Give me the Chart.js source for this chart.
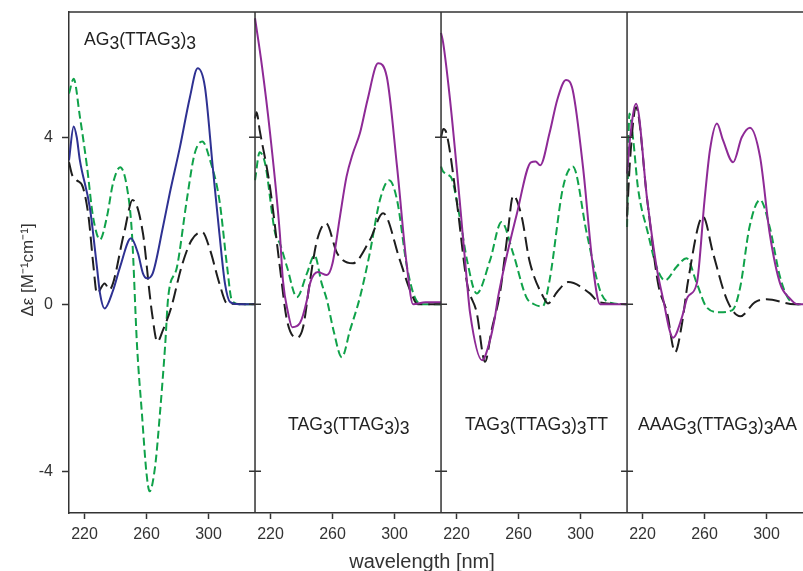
<!DOCTYPE html>
<html lang="en">

<head>
    <meta charset="utf-8">
    <title>CD spectra</title>
    <script src="https://cdn.jsdelivr.net/npm/chart.js"></script>
    <style>
        body { margin: 0; background: #fff; overflow: hidden; }
    </style>
</head>
<body>
<canvas id="cdChart" width="803" height="571"></canvas>

<script>
    // wavelength axis, each panel spans 210-330 nm
    const wlMin = 210
    const panelWidth = 120
    const xTickLabels = [220, 260, 300]
    const yTickValues = [-4, 0, 4]

    const panelNames = [
        [['AG', 0], ['3', 1], ['(TTAG', 0], ['3', 1], [')', 0], ['3', 1]],
        [['TAG', 0], ['3', 1], ['(TTAG', 0], ['3', 1], [')', 0], ['3', 1]],
        [['TAG', 0], ['3', 1], ['(TTAG', 0], ['3', 1], [')', 0], ['3', 1], ['TT', 0]],
        [['AAAG', 0], ['3', 1], ['(TTAG', 0], ['3', 1], [')', 0], ['3', 1], ['AA', 0]]
    ]

    // panel 1: AG3(TTAG3)3
    const p1BlueWl = [210, 213, 215, 217, 223.5, 228, 230, 233, 238.4, 243, 250, 254.5, 257.7, 260.3, 264, 270.6, 275, 281.6, 288, 293, 297.7, 302.7, 307, 310.6, 314, 320, 330]
    const p1BlueCd = [3.45, 4.26, 4.0, 3.45, 2.3, 0.9, 0.26, -0.1, 0.33, 0.9, 1.58, 1.22, 0.74, 0.62, 0.74, 1.85, 2.66, 3.77, 4.96, 5.65, 5.2, 3.3, 1.7, 0.5, 0.05, 0, 0]
    const p1GreenWl = [210, 213, 217, 221.6, 225.5, 230, 234.5, 238.4, 243, 247.4, 250.6, 253.9, 257, 260, 262, 265.5, 268.7, 272, 274, 279.7, 286, 291, 296, 301, 307, 312, 315, 320, 330]
    const p1GreenCd = [5.05, 5.4, 4.5, 3.3, 2.1, 1.55, 2.1, 2.9, 3.28, 2.8, 1.7, -1.0, -2.6, -4.05, -4.48, -3.9, -2.6, -1.0, 0.17, 0.9, 2.5, 3.6, 3.9, 3.45, 2.5, 0.9, 0.1, 0, 0]
    const p1BlackWl = [210, 212, 215, 219, 222.6, 225.8, 228, 233, 236, 245.5, 251, 257.7, 262, 263.5, 267, 270.6, 276, 282.6, 289, 296, 301, 307, 312, 330]
    const p1BlackCd = [3.4, 3.1, 2.97, 2.8, 2.1, 0.9, 0.26, 0.5, 0.35, 1.7, 2.5, 1.7, 0.26, -0.2, -0.9, -0.62, -0.07, 0.9, 1.53, 1.73, 1.3, 0.5, 0.02, 0]

    // panel 2: TAG3(TTAG3)3
    const p2PurpleWl = [210, 214.5, 219.7, 226, 228, 231.3, 234, 239, 243.5, 245.5, 250.6, 256.4, 260, 264.8, 269, 273, 277.7, 282.6, 289.4, 295, 301.6, 308, 312, 320, 330]
    const p2PurpleCd = [6.85, 5.7, 4.1, 1.7, 0.57, -0.2, -0.55, -0.45, 0.1, 0.5, 0.77, 0.7, 0.98, 2.1, 3.05, 3.6, 4.1, 4.9, 5.77, 5.45, 3.3, 0.9, 0, 0.05, 0.05]
    const p2BlackWl = [210, 211, 213, 219.7, 226, 230.6, 237, 241, 245.5, 250, 255.8, 263, 273, 284, 292.6, 303.5, 310, 315, 330]
    const p2BlackCd = [4.45, 4.6, 4.17, 2.8, 0.9, -0.38, -0.8, -0.55, 0.57, 1.53, 1.94, 1.22, 0.98, 1.53, 2.18, 1.05, 0.34, 0, 0]
    const p2GreenWl = [210, 213, 216.5, 223, 226, 230.6, 237, 243.5, 248.4, 253, 256.4, 260.6, 266, 271.3, 277.7, 284, 290.6, 296.5, 301.6, 308, 313, 318, 330]
    const p2GreenCd = [2.97, 3.64, 3.37, 1.7, 1.46, 0.9, 0.17, 0.74, 1.17, 0.5, 0.1, -0.62, -1.27, -0.62, 0.17, 1.22, 2.5, 2.97, 2.5, 0.9, 0.17, 0, 0]

    // panel 3: TAG3(TTAG3)3TT
    const p3PurpleWl = [210, 211.3, 215.8, 222, 226.8, 228.7, 236.5, 241.6, 244.8, 246.8, 259, 268, 271, 274, 280, 285, 290.6, 295, 301.6, 308, 312.6, 330]
    const p3PurpleCd = [6.5, 6.28, 4.9, 2.5, 0.5, -0.2, -1.34, -0.86, -0.3, 0.17, 2.18, 3.4, 3.42, 3.33, 4.1, 4.9, 5.37, 5.12, 3.28, 0.89, 0, 0]
    const p3BlackWl = [210, 211.5, 213.5, 220, 226.8, 233, 238.4, 242.6, 248, 253, 256.5, 262, 267, 276, 279, 285, 292, 306, 312, 330]
    const p3BlackCd = [4.0, 4.2, 4.1, 2.5, 0.5, -0.2, -1.38, -0.62, 0.26, 1.7, 2.6, 2.1, 1.05, 0.17, 0.02, 0.3, 0.53, 0.26, 0.05, 0]
    const p3GreenWl = [210, 211, 214.5, 217, 222, 226.8, 233, 241.6, 249, 256.5, 265, 270, 275.5, 280, 288.7, 295, 304, 312.6, 318, 330]
    const p3GreenCd = [3.3, 3.2, 3.1, 3.0, 2.1, 1.05, 0.26, 1.05, 1.97, 1.22, 0.17, 0.0, -0.05, 0.57, 2.8, 3.3, 1.7, 0.33, 0.05, 0]

    // panel 4: AAAG3(TTAG3)3AA
    const p4PurpleWl = [210, 212, 215.8, 223, 229, 233, 239.7, 245.5, 249, 255, 260, 263.5, 268, 271.9, 278.4, 284, 289.3, 295.8, 302, 308.7, 315, 320, 330]
    const p4PurpleCd = [3.13, 4.0, 4.8, 2.5, 0.9, 0.17, -0.8, -0.3, 0.17, 0.5, 2.5, 3.7, 4.33, 3.93, 3.4, 4.0, 4.23, 3.53, 1.7, 0.5, 0.14, 0, 0]
    const p4BlackWl = [210, 212, 215.8, 223, 230, 235.8, 241, 245.5, 249.4, 259, 265.5, 274.5, 283, 292.6, 300, 318, 330]
    const p4BlackCd = [2.1, 3.5, 4.72, 2.5, 0.5, -0.2, -1.15, -0.45, 0.57, 2.1, 1.22, 0.1, -0.29, 0.05, 0.12, 0, 0]
    const p4GreenWl = [210, 211.5, 214, 217, 223.5, 229, 234.5, 242, 248.4, 255, 261.3, 269.7, 278, 283, 289, 295.8, 302, 308.7, 314, 320, 330]
    const p4GreenCd = [1.85, 4.57, 3.93, 2.8, 1.7, 0.9, 0.57, 0.9, 1.1, 0.5, -0.07, -0.19, -0.14, 0.41, 1.85, 2.5, 1.85, 0.65, 0.14, 0, 0]

    const axisColor = '#333'
    const fontFamily = "'Liberation Sans', Arial, sans-serif"
    const lineStyles = {
        blue: { color: '#2e3192', dash: [], width: 2 },
        purple: { color: '#8e2a96', dash: [], width: 2 },
        green: { color: '#10a24a', dash: [8, 4], width: 2 },
        black: { color: '#1e1e1e', dash: [14, 6], width: 2 }
    }

    function makeSet(wl, cd, panel, style) {
        const s = lineStyles[style]
        return {
            data: wl.map((w, i) => ({ x: w - wlMin + panel * panelWidth, y: cd[i] })),
            borderColor: s.color,
            borderDash: s.dash,
            borderWidth: s.width,
            fill: false,
            pointRadius: 0,
            cubicInterpolationMode: 'monotone'
        }
    }

    // first dataset is drawn on top
    const datasets = [
        makeSet(p1BlueWl, p1BlueCd, 0, 'blue'),
        makeSet(p2PurpleWl, p2PurpleCd, 1, 'purple'),
        makeSet(p3PurpleWl, p3PurpleCd, 2, 'purple'),
        makeSet(p4PurpleWl, p4PurpleCd, 3, 'purple'),
        makeSet(p1BlackWl, p1BlackCd, 0, 'black'),
        makeSet(p2BlackWl, p2BlackCd, 1, 'black'),
        makeSet(p3BlackWl, p3BlackCd, 2, 'black'),
        makeSet(p4BlackWl, p4BlackCd, 3, 'black'),
        makeSet(p1GreenWl, p1GreenCd, 0, 'green'),
        makeSet(p2GreenWl, p2GreenCd, 1, 'green'),
        makeSet(p3GreenWl, p3GreenCd, 2, 'green'),
        makeSet(p4GreenWl, p4GreenCd, 3, 'green')
    ]

    function drawName(ctx, parts, x, y, size) {
        ctx.font = size + 'px ' + fontFamily
        for (const [txt, sub] of parts) {
            ctx.fillText(txt, x, y + (sub ? 4 : 0))
            x += ctx.measureText(txt).width
        }
    }

    const framePlugin = {
        id: 'frame',
        afterDraw(chart) {
            const ctx = chart.ctx
            const a = chart.chartArea
            const xs = chart.scales.x
            const ys = chart.scales.y
            ctx.save()
            ctx.strokeStyle = axisColor
            ctx.lineWidth = 1.5
            ctx.beginPath()
            ctx.moveTo(a.left, a.top)
            ctx.lineTo(a.right, a.top)
            for (let p = 1; p < 4; p++) {
                const px = xs.getPixelForValue(p * panelWidth)
                ctx.moveTo(px, a.top)
                ctx.lineTo(px, a.bottom)
                yTickValues.forEach(t => {
                    const py = ys.getPixelForValue(t)
                    ctx.moveTo(px - 6, py)
                    ctx.lineTo(px + 6, py)
                })
            }
            ctx.stroke()

            // sequence names
            ctx.fillStyle = '#222'
            ctx.textBaseline = 'alphabetic'
            ctx.textAlign = 'left'
            drawName(ctx, panelNames[0], xs.getPixelForValue(219.7 - wlMin), ys.getPixelForValue(6.2), 17.6)
            const nameStart = [231.3, 225.5, 217]
            for (let p = 1; p < 4; p++) {
                drawName(ctx, panelNames[p], xs.getPixelForValue(nameStart[p - 1] - wlMin + p * panelWidth), ys.getPixelForValue(-3.02), 17.6)
            }

            // axis titles
            ctx.fillStyle = axisColor
            ctx.font = '20px ' + fontFamily
            ctx.textAlign = 'center'
            ctx.fillText('wavelength [nm]', 422, 568)
            ctx.translate(33, 270)
            ctx.rotate(-Math.PI / 2)
            ctx.font = '17px ' + fontFamily
            ctx.fillText('\u0394\u03b5 [M\u207b\u00b9cm\u207b\u00b9]', 0, 0)
            ctx.restore()
        }
    }

    const cdChart = new Chart(document.getElementById('cdChart'), {
        type: 'line',
        data: { datasets: datasets },
        options: {
            responsive: false,
            animation: false,
            layout: { padding: { top: 12, left: 0, right: 0, bottom: 0 } },
            plugins: { legend: { display: false }, tooltip: { enabled: false } },
            scales: {
                x: {
                    type: 'linear',
                    min: 0,
                    max: 473.5,
                    afterBuildTicks: scale => {
                        const ticks = []
                        for (let p = 0; p < 4; p++) {
                            xTickLabels.forEach(w => ticks.push({ value: w - wlMin + p * panelWidth }))
                        }
                        scale.ticks = ticks
                    },
                    afterFit: scale => {
                        scale.height = 58
                        scale.paddingLeft = 0
                        scale.paddingRight = 0
                    },
                    grid: { drawOnChartArea: false, tickLength: 6, tickWidth: 1.5, tickColor: axisColor },
                    border: { color: axisColor, width: 1.5 },
                    ticks: {
                        color: axisColor,
                        font: { family: fontFamily, size: 16 },
                        padding: 6,
                        maxRotation: 0,
                        autoSkip: false,
                        callback: v => wlMin + (v % panelWidth)
                    }
                },
                y: {
                    min: -5,
                    max: 7,
                    afterBuildTicks: scale => { scale.ticks = yTickValues.map(v => ({ value: v })) },
                    afterFit: scale => {
                        scale.width = 69
                        scale.paddingTop = 0
                        scale.paddingBottom = 0
                    },
                    grid: { drawOnChartArea: false, tickLength: 7, tickWidth: 1.5, tickColor: axisColor },
                    border: { color: axisColor, width: 1.5 },
                    ticks: {
                        color: axisColor,
                        font: { family: fontFamily, size: 16 },
                        padding: 9
                    }
                }
            }
        },
        plugins: [framePlugin]
    })
</script>
</body>
</html>
